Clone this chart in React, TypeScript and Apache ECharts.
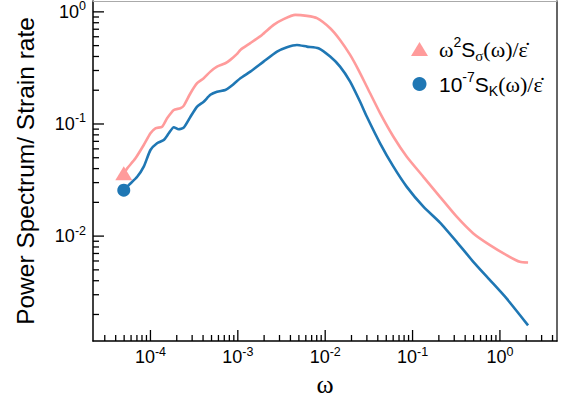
import React, { useEffect, useRef } from "react";
import * as echarts from "echarts";

// ---- data ----
const OMEGA_SIGMA = [4.95e-5, 5.42e-5, 6.74e-5, 8.38e-5, 1.0e-4, 1.14e-4, 1.36e-4, 1.55e-4, 1.85e-4, 2.2e-4, 2.4e-4, 2.87e-4, 3.42e-4, 4.07e-4, 4.85e-4, 5.78e-4, 7.2e-4, 8.2e-4, 9.8e-4, 1.07e-3, 1.39e-3, 1.89e-3, 2.57e-3, 3.34e-3, 4.54e-3, 6.18e-3, 8.04e-3, 1.14e-2, 1.48e-2, 1.93e-2, 2.4e-2, 3.0e-2, 4.25e-2, 6.04e-2, 8.59e-2, 0.133, 0.206, 0.32, 0.496, 0.769, 1.19, 1.69, 2.1];
const SIGMA_VALUES = [0.0363, 0.0402, 0.0494, 0.0649, 0.0826, 0.0916, 0.0946, 0.1124, 0.1334, 0.138, 0.145, 0.188, 0.231, 0.256, 0.293, 0.325, 0.348, 0.373, 0.422, 0.458, 0.526, 0.623, 0.765, 0.861, 0.94, 0.921, 0.879, 0.715, 0.562, 0.413, 0.304, 0.215, 0.125, 0.077, 0.0511, 0.0338, 0.0224, 0.0149, 0.01057, 0.00831, 0.00677, 0.0059, 0.00582];

const OMEGA_K = [4.95e-5, 5.65e-5, 7.05e-5, 8.38e-5, 1.0e-4, 1.19e-4, 1.42e-4, 1.62e-4, 1.85e-4, 2.1e-4, 2.4e-4, 2.87e-4, 3.42e-4, 4.07e-4, 4.85e-4, 5.78e-4, 7.2e-4, 8.2e-4, 1.07e-3, 1.39e-3, 1.97e-3, 2.81e-3, 3.65e-3, 4.75e-3, 6.18e-3, 8.38e-3, 1.14e-2, 1.48e-2, 1.93e-2, 2.51e-2, 3.0e-2, 4.25e-2, 6.04e-2, 8.59e-2, 0.133, 0.206, 0.32, 0.496, 0.769, 1.19, 2.1];
const K_VALUES = [0.0257, 0.0285, 0.0338, 0.0416, 0.0586, 0.0673, 0.072, 0.0826, 0.0935, 0.0897, 0.0927, 0.116, 0.143, 0.158, 0.182, 0.194, 0.201, 0.215, 0.256, 0.293, 0.36, 0.442, 0.484, 0.507, 0.49, 0.474, 0.399, 0.325, 0.239, 0.158, 0.116, 0.0673, 0.0416, 0.0275, 0.0183, 0.0132, 0.00889, 0.0059, 0.00405, 0.00278, 0.0016];

const X_MIN = 2.2e-5;
const X_MAX = 4.5;
const Y_MIN = 1.16e-3;
const Y_MAX = 1.25;

const X_MAJOR_TICKS = [1e-4, 1e-3, 1e-2, 1e-1, 1];
const Y_MAJOR_TICKS = [1e-2, 1e-1, 1];
const X_MINOR_TICKS = [3e-5, 4e-5, 5e-5, 6e-5, 7e-5, 8e-5, 9e-5,
  2e-4, 3e-4, 4e-4, 5e-4, 6e-4, 7e-4, 8e-4, 9e-4,
  2e-3, 3e-3, 4e-3, 5e-3, 6e-3, 7e-3, 8e-3, 9e-3,
  2e-2, 3e-2, 4e-2, 5e-2, 6e-2, 7e-2, 8e-2, 9e-2,
  0.2, 0.3, 0.4, 0.5, 0.6, 0.7, 0.8, 0.9,
  2, 3, 4];
const Y_MINOR_TICKS = [2e-3, 3e-3, 4e-3, 5e-3, 6e-3, 7e-3, 8e-3, 9e-3,
  2e-2, 3e-2, 4e-2, 5e-2, 6e-2, 7e-2, 8e-2, 9e-2,
  0.2, 0.3, 0.4, 0.5, 0.6, 0.7, 0.8, 0.9];

const NAME_SIGMA = "sigma";
const NAME_K = "K";
const PINK = "#ff9b9b";
const BLUE = "#1f77b4";

const SANS = "Liberation Sans, Arial, sans-serif";
const SERIF = "Liberation Serif, Times New Roman, serif";

const tickRich = {
  b: { fontSize: 18, fontFamily: SANS, color: "#000", lineHeight: 24 },
  sup: { fontSize: 12.5, fontFamily: SANS, color: "#000", lineHeight: 13, verticalAlign: "top" as const },
};

const expLabel = (v: number) => {
  const e = Math.round(Math.log10(v));
  return `{b|10}{sup|${e}}`;
};

export default function App() {
  const ref = useRef<HTMLDivElement>(null);
  useEffect(() => {
    if (!ref.current) return;
    const chart = echarts.init(ref.current, null, { renderer: "svg" });

    const legendRich = {
      g: { width: 6 },
      w: { fontFamily: SERIF, fontSize: 22, color: "#000", lineHeight: 28 },
      s: { fontFamily: SANS, fontSize: 21, color: "#000", lineHeight: 28 },
      sup: { fontFamily: SANS, fontSize: 14, color: "#000", lineHeight: 14, verticalAlign: "top" as const },
      sub: { fontFamily: SERIF, fontSize: 15, color: "#000", lineHeight: 14, verticalAlign: "bottom" as const },
      subs: { fontFamily: SANS, fontSize: 14, color: "#000", lineHeight: 14, verticalAlign: "bottom" as const },
    };

    chart.setOption({
      animation: false,
      backgroundColor: "#fff",
      grid: { left: 93, right: 10, top: 1, bottom: 62, containLabel: false, outerBoundsMode: "none" },
      legend: {
        orient: "vertical",
        left: 406,
        top: 30,
        itemGap: 7,
        itemWidth: 17,
        itemHeight: 14,
        data: [
          { name: NAME_SIGMA, icon: "triangle" },
          { name: NAME_K, icon: "circle" },
        ],
        formatter: (n: string) =>
          n === NAME_SIGMA
            ? "{g|}{w|ω}{sup|2}{s|S}{sub|σ}{w|(ω)/ε\u0307}"
            : "{g|}{s|10}{sup|-7}{s|S}{subs|K}{w|(ω)/ε\u0307}",
        textStyle: { rich: legendRich },
      },
      xAxis: [
        {
          type: "log",
          min: X_MIN,
          max: X_MAX,
          name: "ω",
          nameLocation: "middle",
          nameGap: 30,
          nameTextStyle: { fontFamily: SERIF, fontSize: 26, color: "#000" },
          axisLine: { show: true, onZero: false, lineStyle: { color: "#000", width: 1.5 } },
          axisTick: { show: false },
          splitLine: { show: false },
          axisLabel: {
            formatter: expLabel,
            rich: tickRich,
            margin: 4,
            showMinLabel: false,
            showMaxLabel: false,
          },
        },
        {
          type: "log",
          position: "top",
          min: X_MIN,
          max: X_MAX,
          axisLine: { show: true, onZero: false, lineStyle: { color: "#aaaaaa", width: 1.2 } },
          axisTick: { show: false },
          axisLabel: { show: false },
          splitLine: { show: false },
        },
      ],
      yAxis: [
        {
          type: "log",
          min: Y_MIN,
          max: Y_MAX,
          name: "Power Spectrum/ Strain rate",
          nameLocation: "middle",
          nameGap: 55,
          nameTextStyle: { fontFamily: SANS, fontSize: 24.5, color: "#000" },
          axisLine: { show: true, onZero: false, lineStyle: { color: "#000", width: 1.5 } },
          axisTick: { show: false },
          splitLine: { show: false },
          axisLabel: {
            formatter: expLabel,
            rich: tickRich,
            margin: 7,
            showMinLabel: false,
            showMaxLabel: false,
          },
        },
        {
          type: "log",
          position: "right",
          min: Y_MIN,
          max: Y_MAX,
          axisLine: { show: true, onZero: false, lineStyle: { color: "#333333", width: 1.5 } },
          axisTick: { show: false },
          axisLabel: { show: false },
          splitLine: { show: false },
        },
      ],
      series: [
        {
          name: NAME_SIGMA,
          type: "line",
          symbol: "none",
          showSymbol: true,
          smooth: 0.2,
          lineStyle: { color: PINK, width: 2.6 },
          itemStyle: { color: PINK },
          data: OMEGA_SIGMA.map((w, i) =>
            i === 0
              ? { value: [w, SIGMA_VALUES[i]], symbol: "triangle", symbolSize: [17, 14] }
              : { value: [w, SIGMA_VALUES[i]] }
          ),
        },
        {
          name: NAME_K,
          type: "line",
          symbol: "none",
          showSymbol: true,
          smooth: 0.2,
          lineStyle: { color: BLUE, width: 2.6 },
          itemStyle: { color: BLUE },
          data: OMEGA_K.map((w, i) =>
            i === 0
              ? { value: [w, K_VALUES[i]], symbol: "circle", symbolSize: 13 }
              : { value: [w, K_VALUES[i]] }
          ),
        },
      ],
    } as any);

    // tick marks (inside), positioned through the axes' own log scales
    const bottom = chart.convertToPixel({ yAxisIndex: 0 }, Y_MIN) as number;
    const left = chart.convertToPixel({ xAxisIndex: 0 }, X_MIN) as number;
    const tickStyle = { stroke: "#000", lineWidth: 1.3 };
    const elements: any[] = [];
    const addX = (vals: number[], len: number) =>
      vals.forEach((v) => {
        const px = chart.convertToPixel({ xAxisIndex: 0 }, v) as number;
        elements.push({ type: "line", z: 50, silent: true, shape: { x1: px, y1: bottom, x2: px, y2: bottom - len }, style: tickStyle });
      });
    const addY = (vals: number[], len: number) =>
      vals.forEach((v) => {
        const py = chart.convertToPixel({ yAxisIndex: 0 }, v) as number;
        elements.push({ type: "line", z: 50, silent: true, shape: { x1: left, y1: py, x2: left + len, y2: py }, style: tickStyle });
      });
    addX(X_MAJOR_TICKS, 11);
    addX(X_MINOR_TICKS, 6);
    addY(Y_MAJOR_TICKS, 11);
    addY(Y_MINOR_TICKS, 6);
    chart.setOption({ graphic: { elements } } as any);

    return () => chart.dispose();
  }, []);

  return (
    <div
      ref={ref}
      style={{ position: "absolute", left: 0, top: 0, width: 567, height: 403 }}
    />
  );
}
